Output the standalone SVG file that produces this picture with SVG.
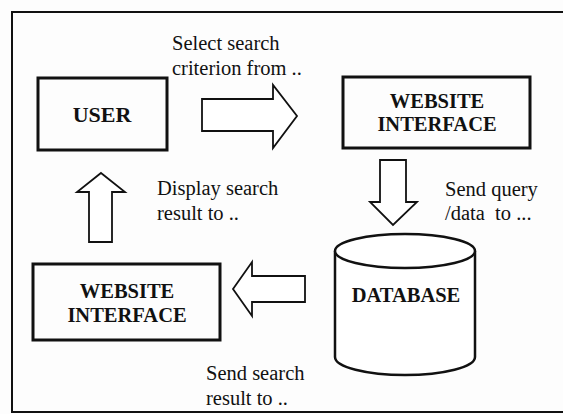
<svg xmlns="http://www.w3.org/2000/svg" width="563" height="414" viewBox="0 0 563 414">
<style>
.box{fill:none;stroke:#111;stroke-width:3}
.arr{fill:#fff;stroke:#111;stroke-width:1.8;stroke-linejoin:miter}
.cyl{fill:#fff;stroke:#111;stroke-width:2.5}
.lbl{font-family:"Liberation Serif","Times New Roman",serif;font-size:20.5px;fill:#111;white-space:pre}
.nt{font-family:"Liberation Serif","Times New Roman",serif;font-size:20.5px;font-weight:bold;fill:#111;text-anchor:middle}
</style>
<rect width="563" height="414" fill="#fdfdfd"/>
<rect x="12" y="12" width="600" height="400" fill="none" stroke="#111" stroke-width="2"/>
<g id="connectors">
<polygon class="arr" points="202,99 273,99 273,85 297,116 273,148 273,131 202,131"/>
<polygon class="arr" points="380,160 406,160 406,202 417,202 393,225 370,202 380,202"/>
<polygon class="arr" points="233,289 252,262 252,276 305,276 305,302 252,302 252,316"/>
<polygon class="arr" points="101,173 125,192 112,192 112,242 89,242 89,192 77,192"/>
<text class="lbl" x="172" y="50">Select search</text>
<text class="lbl" x="172" y="75">criterion from ..</text>
<text class="lbl" x="445" y="196">Send query</text>
<text class="lbl" x="445" y="220">/data  to ...</text>
<text class="lbl" x="206" y="380">Send search</text>
<text class="lbl" x="206" y="405">result to ..</text>
<text class="lbl" x="157" y="195">Display search</text>
<text class="lbl" x="157" y="220">result to ..</text>
</g>
<g id="user">
<rect class="box" x="38" y="78" width="129" height="72"/>
<text class="nt" x="102" y="122" style="font-size:22px">USER</text>
</g>
<g id="website-interface-top">
<rect class="box" x="343" y="77" width="187" height="71"/>
<text class="nt" x="437" y="108">WEBSITE</text>
<text class="nt" x="437" y="131">INTERFACE</text>
</g>
<g id="database">
<path class="cyl" d="M335,251 L335,357 A70,18 0 0 0 475,357 L475,251"/>
<ellipse class="cyl" cx="405" cy="251" rx="70" ry="17"/>
<text class="nt" x="406" y="302">DATABASE</text>
</g>
<g id="website-interface-bottom">
<rect class="box" x="33" y="264" width="187" height="76"/>
<text class="nt" x="127" y="298">WEBSITE</text>
<text class="nt" x="127" y="322">INTERFACE</text>
</g>
</svg>
